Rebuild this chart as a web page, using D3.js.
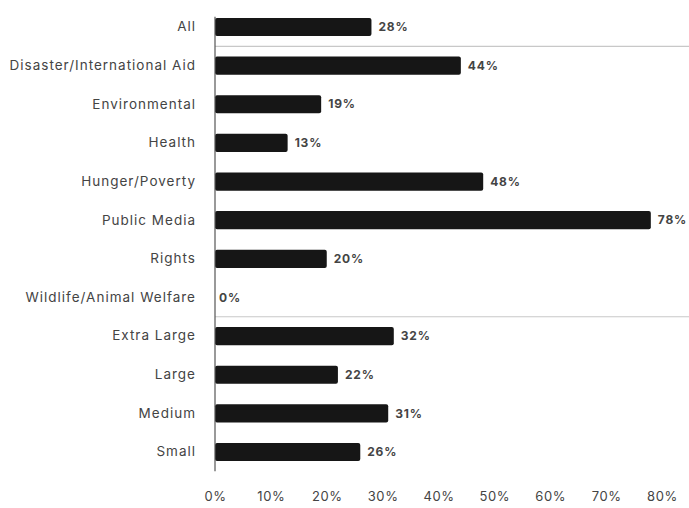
<!DOCTYPE html>
<html>
<head>
<meta charset="utf-8">
<script src="https://cdn.jsdelivr.net/npm/d3@7"></script>
<style>
  html, body { margin: 0; padding: 0; background: #fff; }
  svg { display: block; font-family: Inter, "Noto Sans", sans-serif; }
</style>
</head>
<body>
<svg id="chart" width="689" height="508"></svg>
<script>
const categories = [
  "All",
  "Disaster/International Aid",
  "Environmental",
  "Health",
  "Hunger/Poverty",
  "Public Media",
  "Rights",
  "Wildlife/Animal Welfare",
  "Extra Large",
  "Large",
  "Medium",
  "Small"
];
const values = [28, 44, 19, 13, 48, 78, 20, 0, 32, 22, 31, 26];
const tickValues = [0, 10, 20, 30, 40, 50, 60, 70, 80];
// group dividers sit after these rows
const dividerAfter = ["All", "Wildlife/Animal Welfare"];

const svg = d3.select("#chart");
const W = 689;

const x = d3.scaleLinear().domain([0, 80]).range([215, 662]);
const y = d3.scaleBand().domain(categories).range([7.7, 471.3]).paddingInner(0.53).paddingOuter(0.265);

// dividers between groups
svg.append("g").selectAll("line")
  .data(dividerAfter)
  .join("line")
  .attr("x1", x(0)).attr("x2", W)
  .attr("y1", d => y(d) + y.bandwidth() / 2 + y.step() / 2)
  .attr("y2", d => y(d) + y.bandwidth() / 2 + y.step() / 2)
  .attr("stroke", "#c8c8c8").attr("stroke-width", 1.2);

// bars
svg.append("g").selectAll("rect")
  .data(categories)
  .join("rect")
  .attr("x", x(0))
  .attr("y", d => y(d))
  .attr("width", (d, i) => x(values[i]) - x(0))
  .attr("height", y.bandwidth())
  .attr("rx", 2)
  .attr("fill", "#161616");

// value labels
svg.append("g").selectAll("text")
  .data(categories)
  .join("text")
  .attr("x", (d, i) => x(values[i]) + (values[i] === 0 ? 4 : 7))
  .attr("y", d => y(d) + y.bandwidth() / 2)
  .attr("dy", "0.35em")
  .attr("font-size", 12)
  .attr("letter-spacing", 0.8)
  .attr("font-weight", 700)
  .attr("fill", "#444")
  .text((d, i) => values[i] + "%");

// category axis
const yAxis = svg.append("g")
  .attr("transform", `translate(${x(0)},0)`)
  .call(d3.axisLeft(y).tickSize(0).tickPadding(19));
yAxis.select(".domain")
  .attr("stroke", "#555").attr("stroke-width", 1.2)
  .attr("d", `M0,${y.range()[0] + 9}V${y.range()[1]}`);
yAxis.selectAll("text")
  .attr("font-size", 13.5)
  .attr("letter-spacing", 1)
  .attr("font-family", "Inter, 'Noto Sans', sans-serif")
  .attr("fill", "#444");

// value axis
const xAxis = svg.append("g")
  .attr("transform", "translate(0,496)")
  .call(d3.axisBottom(x).tickValues(tickValues).tickFormat(d => d + "%").tickSize(0).tickPadding(0));
xAxis.select(".domain").remove();
xAxis.selectAll("text")
  .attr("dy", "0.35em")
  .attr("font-size", 13)
  .attr("letter-spacing", 0.6)
  .attr("font-family", "Inter, 'Noto Sans', sans-serif")
  .attr("fill", "#444");
</script>
</body>
</html>
